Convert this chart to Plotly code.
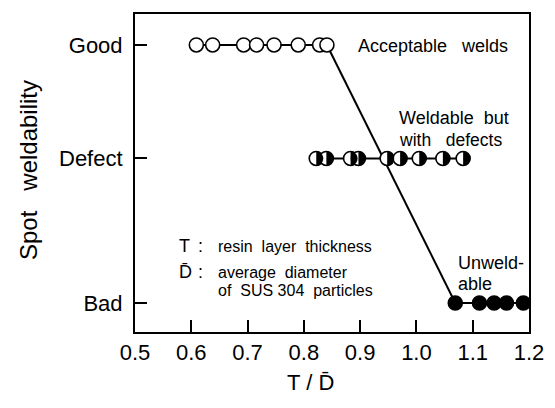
import plotly.graph_objects as go

# Data
level_names = ["Bad", "Defect", "Good"]
level_values = [0.0, 1.12, 2.0]

good_x = [0.609, 0.638, 0.693, 0.716, 0.747, 0.790, 0.828, 0.841]
defect_x = [0.822, 0.840, 0.883, 0.897, 0.948, 0.971, 1.005, 1.047, 1.083]
bad_x = [1.069, 1.112, 1.138, 1.160, 1.190]

x_ticks = [0.5, 0.6, 0.7, 0.8, 0.9, 1.0, 1.1, 1.2]

Y = dict(zip(level_names, level_values))
FONT = "Liberation Sans, Arial, Helvetica, sans-serif"
MS = 14

fig = go.Figure()

# connecting lines
fig.add_trace(go.Scatter(x=good_x, y=[Y["Good"]] * len(good_x), mode="lines",
                         line=dict(color="black", width=2), hoverinfo="skip"))
fig.add_trace(go.Scatter(x=defect_x, y=[Y["Defect"]] * len(defect_x), mode="lines",
                         line=dict(color="black", width=2), hoverinfo="skip"))
fig.add_trace(go.Scatter(x=bad_x, y=[Y["Bad"]] * len(bad_x), mode="lines",
                         line=dict(color="black", width=2), hoverinfo="skip"))
fig.add_trace(go.Scatter(x=[good_x[-1], bad_x[0]], y=[Y["Good"], Y["Bad"]], mode="lines",
                         line=dict(color="black", width=2), hoverinfo="skip"))

# markers
fig.add_trace(go.Scatter(x=good_x, y=[Y["Good"]] * len(good_x), mode="markers",
                         marker=dict(size=MS, color="white", line=dict(color="black", width=1.6))))
fig.add_trace(go.Scatter(x=defect_x, y=[Y["Defect"]] * len(defect_x), mode="markers",
                         marker=dict(size=MS, color="white", line=dict(color="black", width=1.6))))
fig.add_trace(go.Scatter(x=bad_x, y=[Y["Bad"]] * len(bad_x), mode="markers",
                         marker=dict(size=MS, color="black", line=dict(color="black", width=1.6))))

# right half black for "defect" markers
r = MS / 2
k = 0.5523 * r
half = f"M0,{r} C{k},{r} {r},{k} {r},0 C{r},{-k} {k},{-r} 0,{-r} Z"
shapes = []
for xv in defect_x:
    shapes.append(dict(type="path", xref="x", yref="y", xsizemode="pixel", ysizemode="pixel",
                       xanchor=xv, yanchor=Y["Defect"], path=half,
                       fillcolor="black", line=dict(color="black", width=0), layer="above"))

def ann(text, x, y, size=18, xanchor="left"):
    return dict(text=text, x=x, y=y, xref="x", yref="y", showarrow=False,
                xanchor=xanchor, yanchor="middle", font=dict(family=FONT, size=size, color="black"))

annotations = [
    ann("Acceptable   welds", 0.893, 1.99),
    ann("Weldable  but", 0.966, 1.43),
    ann("with   defects", 0.966, 1.265, size=17.5),
    ann("Unweld-", 1.071, 0.31),
    ann("able", 1.071, 0.15),
    ann("T", 0.574, 0.44, size=18),
    ann(":", 0.608, 0.44, size=18),
    ann("resin  layer  thickness", 0.644, 0.44, size=16),
    ann("D\u0304", 0.574, 0.24, size=18),
    ann(":", 0.608, 0.24, size=18),
    ann("average  diameter", 0.644, 0.24, size=16),
    ann("of  SUS 304  particles", 0.644, 0.10, size=16),
    dict(text="Spot   weldability", showarrow=False, textangle=-90,
         font=dict(family=FONT, size=24, color="black")),
    dict(text="T / D\u0304", showarrow=False, font=dict(family=FONT, size=22, color="black")),
]
W, H = 555, 408
L, R, T, B = 135, 11, 14, 76
pw, ph = W - L - R, H - T - B
annotations[-2].update(xref="paper", yref="paper", x=(24 - L) / pw, y=(H - 170 - B) / ph,
                       xanchor="center", yanchor="middle")
annotations[-1].update(xref="paper", yref="paper", x=(317 - L) / pw, y=(H - 382 - B) / ph,
                       xanchor="center", yanchor="middle")

fig.update_layout(
    width=W, height=H,
    margin=dict(l=L, r=R, t=T, b=B),
    paper_bgcolor="white", plot_bgcolor="white",
    showlegend=False,
    shapes=shapes,
    annotations=annotations,
    font=dict(family=FONT, color="black"),
)
fig.update_xaxes(range=[0.5, 1.2], tickvals=x_ticks, ticktext=[f"{v:.1f}" for v in x_ticks],
                 ticks="inside", ticklen=12, tickwidth=1.5, tickcolor="black",
                 showline=True, linecolor="black", linewidth=2, mirror=True,
                 showgrid=False, zeroline=False, tickfont=dict(family=FONT, size=22),
                 ticklabelstandoff=0, ticklabeloverflow="allow")
fig.update_yaxes(range=[-0.225, 2.24], tickvals=level_values, ticktext=level_names,
                 ticks="inside", ticklen=12, tickwidth=1.5, tickcolor="black",
                 showline=True, linecolor="black", linewidth=2, mirror=True,
                 showgrid=False, zeroline=False, tickfont=dict(family=FONT, size=22),
                 ticklabelstandoff=6)

fig.write_html("out.html")
